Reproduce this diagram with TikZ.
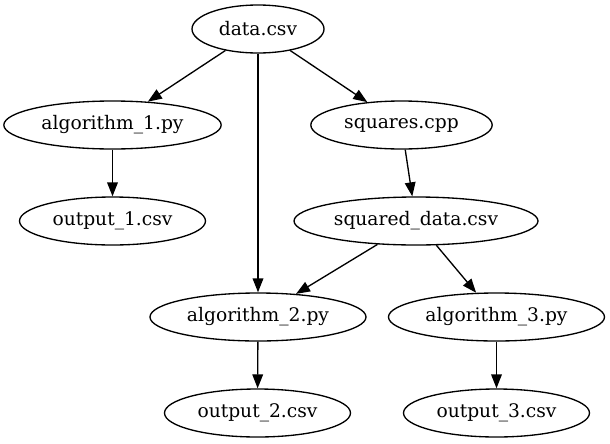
\documentclass[tikz,border=0pt]{standalone}
\usepackage{fontspec}
\setmainfont{DejaVu Serif}
\usetikzlibrary{shapes.geometric,arrows.meta}
\tikzset{
  gvnode/.style={draw=black, ellipse, line width=1pt, inner sep=0pt,
    minimum height=36pt, font=\fontsize{14pt}{17pt}\selectfont},
  gvedge/.style={draw=black, line width=1pt, -{Triangle[length=10.5pt,width=8pt]}}
}
\begin{document}
\begin{tikzpicture}[x=0.75pt, y=-0.75pt]
\useasboundingbox[fill=white] (0,0) rectangle (610,443);
\node[gvnode, minimum width=99pt]    (data) at (258,29)    {data.csv};
\node[gvnode, minimum width=163pt]   (alg1) at (112.5,125) {algorithm\_1.py};
\node[gvnode, minimum width=136pt]   (sq)   at (401.5,125) {squares.cpp};
\node[gvnode, minimum width=139.5pt] (out1) at (112.5,221) {output\_1.csv};
\node[gvnode, minimum width=183pt]   (sqd)  at (416,221)   {squared\_data.csv};
\node[gvnode, minimum width=162pt]   (alg2) at (258,317)   {algorithm\_2.py};
\node[gvnode, minimum width=162pt]   (alg3) at (496.5,317) {algorithm\_3.py};
\node[gvnode, minimum width=139.5pt] (out2) at (257.5,413) {output\_2.csv};
\node[gvnode, minimum width=139.5pt] (out3) at (496.5,413) {output\_3.csv};
\draw[gvedge] (data) -- (alg1);
\draw[gvedge] (data) -- (sq);
\draw[gvedge] (data) -- (alg2);
\draw[gvedge] (alg1) -- (out1);
\draw[gvedge] (sq) -- (sqd);
\draw[gvedge] (sqd) -- (alg2);
\draw[gvedge] (sqd) -- (alg3);
\draw[gvedge] (alg2) -- (out2);
\draw[gvedge] (alg3) -- (out3);
\end{tikzpicture}
\end{document}
